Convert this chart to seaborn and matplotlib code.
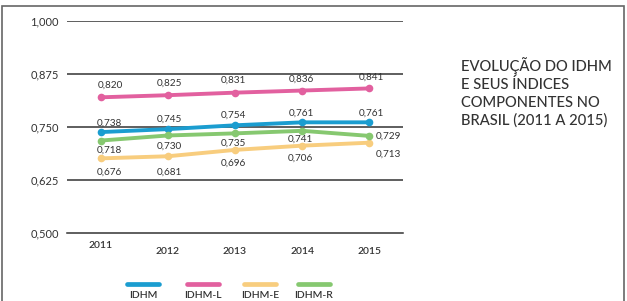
import numpy as np
import pandas as pd
import matplotlib
matplotlib.use('Agg')
import matplotlib.pyplot as plt
from matplotlib.lines import Line2D
from matplotlib.patches import Rectangle
import matplotlib.transforms as mtransforms
import seaborn as sns

# данные
years = ['2011', '2012', '2013', '2014', '2015']
idhm = [0.738, 0.745, 0.754, 0.761, 0.761]
idhm_l = [0.820, 0.825, 0.831, 0.836, 0.841]
idhm_e = [0.676, 0.681, 0.696, 0.706, 0.713]
idhm_r = [0.718, 0.730, 0.735, 0.741, 0.729]
series_names = ['IDHM', 'IDHM-L', 'IDHM-E', 'IDHM-R']
y_ticks = [0.500, 0.625, 0.750, 0.875, 1.000]
title = 'EVOLUÇÃO DO IDHM\nE SEUS ÍNDICES\nCOMPONENTES NO\nBRASIL (2011 A 2015)'

colors = {'IDHM': '#1b9dd0', 'IDHM-L': '#e2609f', 'IDHM-E': '#f8cd7e', 'IDHM-R': '#86c870'}

df = pd.DataFrame({'year': years, 'IDHM': idhm, 'IDHM-L': idhm_l,
                   'IDHM-E': idhm_e, 'IDHM-R': idhm_r})
df['pos'] = range(len(df))
long = df.melt(id_vars=['year', 'pos'], value_vars=series_names,
               var_name='serie', value_name='valor')

sns.set_style('white')
plt.rcParams['font.family'] = ['Lato', 'DejaVu Sans']

W, H = 627, 301
fig = plt.figure(figsize=(W / 100, H / 100), dpi=100)
ax = fig.add_axes([67 / W, (H - 233) / H, 336 / W, 212 / H])

def px(x, y):
    return x / W, (H - y) / H

# рамка
fig.add_artist(Rectangle(px(2, 330), (622) / W, 324 / H, transform=fig.transFigure,
                         fill=False, edgecolor='#666666', lw=1.2, clip_on=False))

# линии
for name in series_names:
    sub = long[long['serie'] == name]
    sns.lineplot(x=sub['pos'], y=sub['valor'], color=colors[name], lw=2.8,
                 marker='o', markersize=5.5, markeredgewidth=0, ax=ax, zorder=3,
                 legend=False)

ax.set_xlim(-0.5, len(years) - 0.5)
ax.set_ylim(0.5, 1.0)
ax.set_xlabel('')
ax.set_ylabel('')
for s in ['left', 'right', 'top']:
    ax.spines[s].set_visible(False)
ax.spines['bottom'].set_color('#333333')
ax.spines['bottom'].set_linewidth(1.1)

for yv in y_ticks[1:]:
    ax.axhline(yv, color='#333333', lw=1.1, zorder=1)

ax.set_yticks(y_ticks)
ax.set_yticklabels([f'{v:.3f}'.replace('.', ',') for v in y_ticks])
ax.tick_params(axis='y', length=0, pad=6, labelsize=8, labelcolor='#333333')

ax.set_xticks(np.arange(-0.5, len(years)))
ax.set_xticklabels([])
ax.tick_params(axis='x', direction='in', length=4, width=1, color='#333333')

# подписи годов
trans = mtransforms.blended_transform_factory(ax.transData, fig.transFigure)
year_y = [246, 251, 251, 251, 251]
for i, yr in enumerate(years):
    ax.text(i, (H - year_y[i]) / H, yr, transform=trans, ha='center', va='center',
            fontsize=7.5, color='#333333', fontweight='semibold')

# подписи значений (смещения в пикселях)
label_off = {
    'IDHM-L': [(10, 12), (2, 12), (-2, 12), (-1, 11), (2, 11)],
    'IDHM': [(9, 9), (2, 10), (-2, 10), (-1, 9), (2, 9)],
    'IDHM-R': [(9, -10), (2, -11), (-2, -10), (-2, -8), (19, 0)],
    'IDHM-E': [(9, -14), (2, -16), (-2, -13), (-2, -13), (19, -11)],
}
for name in series_names:
    vals = df[name].tolist()
    for i, v in enumerate(vals):
        dx, dy = label_off[name][i]
        ax.annotate(f'{v:.3f}'.replace('.', ','), (i, v), xytext=(dx, dy),
                    textcoords='offset pixels', ha='center', va='center',
                    fontsize=7.2, color='#333333', annotation_clip=False)

# легенда
leg_x = [143, 203, 260, 314]
for name, cx in zip(series_names, leg_x):
    x0, y0 = px(cx - 16, 284)
    x1, _ = px(cx + 16, 284)
    fig.add_artist(Line2D([x0, x1], [y0, y0], transform=fig.transFigure,
                          color=colors[name], lw=3.4, solid_capstyle='round'))
    tx, ty = px(cx, 296)
    fig.text(tx, ty, name, ha='center', va='center', fontsize=7.5,
             color='#333333', fontweight='semibold')

# заголовок
tx, ty = px(461, 57)
fig.text(tx, ty, title, ha='left', va='top', fontsize=10.6, color='#333333',
         fontweight='medium', linespacing=1.32)

fig.savefig('out.png', dpi=100)
